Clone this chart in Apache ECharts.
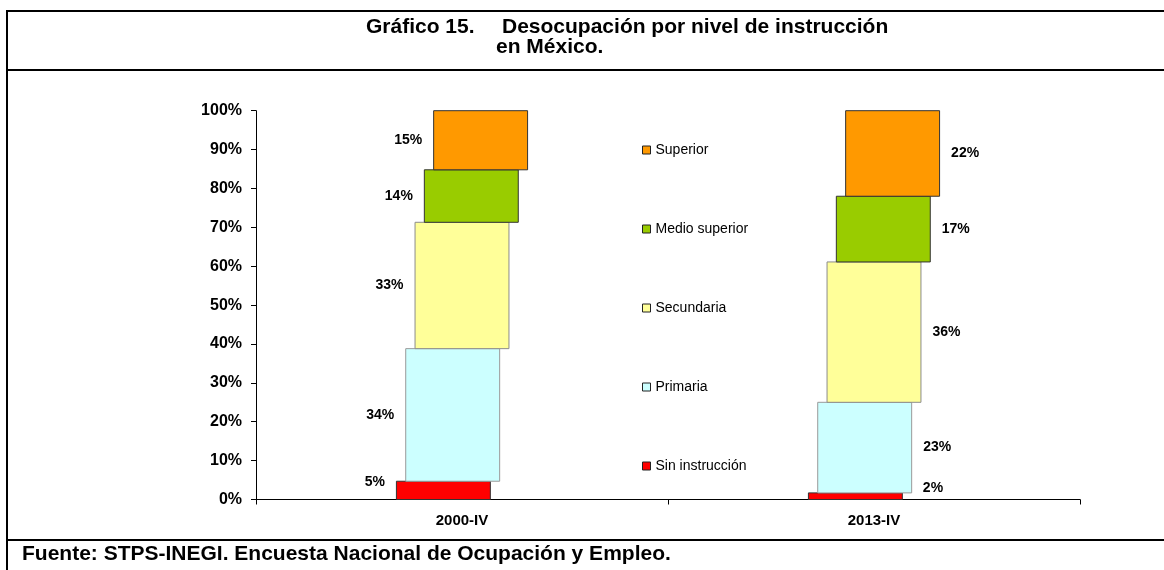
<!DOCTYPE html>
<html><head><meta charset="utf-8">
<script src="https://cdn.jsdelivr.net/npm/echarts@6/dist/echarts.min.js"></script>
<style>html,body{margin:0;padding:0;background:#fff}#c{width:1164px;height:570px}</style>
</head><body><div id="c"></div>
<script>
// ---- data ----
const categories = ['2000-IV', '2013-IV'];
const seriesNames = ['Sin instrucción', 'Primaria', 'Secundaria', 'Medio superior', 'Superior'];
const sinInstruccion = [4.7, 1.7];
const primaria = [34.1, 23.3];
const secundaria = [32.5, 36.1];
const medioSuperior = [13.5, 16.9];
const superior = [15.2, 22.0];
const yMax = 100;
const yStep = 10;
const titleLine1a = 'Gráfico 15.';
const titleLine1b = 'Desocupación por nivel de instrucción';
const titleLine2 = 'en México.';
const sourceText = 'Fuente: STPS-INEGI. Encuesta Nacional de Ocupación y Empleo.';

// ---- styles ----
const fills = ['#FF0000', '#CCFFFF', '#FFFF99', '#99CC00', '#FF9900'];
const borders = ['#333333', '#999999', '#8c8c8c', '#333333', '#333333'];
const FONT = 'Arial, "Liberation Sans", sans-serif';

const values = [sinInstruccion, primaria, secundaria, medioSuperior, superior];
const bases = categories.map(() => 0);

const chart = echarts.init(document.getElementById('c'));

function makeRender(sIdx) {
  return function (params, api) {
    const c = api.value(0), lo = api.value(1), hi = api.value(2), v = api.value(3);
    const pLo = api.coord([c, lo]), pHi = api.coord([c, hi]);
    const band = api.size([1, 0])[0];
    const w = band * 0.228;
    const step = band * 0.0226;
    const x = pLo[0] - w / 2 + (sIdx - 2) * step;
    const h = pLo[1] - pHi[1];
    const small = v < 5;
    const right = c === 1;
    return {
      type: 'rect',
      shape: { x: x, y: pHi[1], width: w, height: h },
      style: { fill: fills[sIdx], stroke: borders[sIdx], lineWidth: 1 },
      textContent: {
        style: { text: Math.round(v) + '%', font: 'bold 14px ' + FONT, fill: '#000' }
      },
      textConfig: {
        position: right ? 'right' : 'left',
        distance: 11,
        offset: [small && right ? 9 : 0, small ? -8 : 0]
      }
    };
  };
}

const series = seriesNames.map((name, sIdx) => {
  const data = categories.map((cat, ci) => {
    const v = values[sIdx][ci];
    const lo = bases[ci];
    bases[ci] += v;
    return [ci, lo, lo + v, v];
  });
  return {
    name: name,
    type: 'custom',
    renderItem: makeRender(sIdx),
    itemStyle: { color: fills[sIdx] },
    encode: { x: 0, y: [1, 2] },
    data: data,
    z: 2
  };
});

const option = {
  animation: false,
  backgroundColor: '#fff',
  grid: { left: 256, right: 84, top: 110.7, bottom: 70.5, containLabel: false },
  xAxis: {
    type: 'category',
    data: categories,
    axisLine: { lineStyle: { color: '#000', width: 1 } },
    axisTick: { show: true, length: 5, lineStyle: { color: '#000' } },
    axisLabel: { color: '#000', fontFamily: FONT, fontWeight: 'bold', fontSize: 15, margin: 14 },
    splitLine: { show: false }
  },
  yAxis: {
    type: 'value',
    min: 0, max: yMax, interval: yStep,
    axisLine: { show: true, lineStyle: { color: '#000', width: 1 } },
    axisTick: { show: true, length: 5, lineStyle: { color: '#000' } },
    axisLabel: { formatter: '{value}%', color: '#000', fontFamily: FONT, fontWeight: 'bold', fontSize: 16, margin: 14 },
    splitLine: { show: false }
  },
  legend: {
    orient: 'vertical',
    left: 642, top: 143,
    padding: 0,
    itemWidth: 8, itemHeight: 8, itemGap: 65,
    icon: 'rect',
    selectedMode: false,
    data: seriesNames.slice().reverse(),
    itemStyle: { borderColor: '#222', borderWidth: 1 },
    textStyle: { fontSize: 14, fontFamily: FONT, color: '#000', lineHeight: 14 }
  },
  graphic: [
    { type: 'line', shape: { x1: 7, y1: 10, x2: 7, y2: 570 }, style: { stroke: '#000', lineWidth: 2 } },
    { type: 'line', shape: { x1: 6, y1: 11, x2: 1164, y2: 11 }, style: { stroke: '#000', lineWidth: 2 } },
    { type: 'line', shape: { x1: 6, y1: 70, x2: 1164, y2: 70 }, style: { stroke: '#000', lineWidth: 2 } },
    { type: 'line', shape: { x1: 6, y1: 540, x2: 1164, y2: 540 }, style: { stroke: '#000', lineWidth: 2 } },
    { type: 'text', left: 366, top: 17, style: { text: titleLine1a, font: 'bold 21px ' + FONT, fill: '#000' } },
    { type: 'text', left: 502, top: 17, style: { text: titleLine1b, font: 'bold 21px ' + FONT, fill: '#000' } },
    { type: 'text', left: 496, top: 37, style: { text: titleLine2, font: 'bold 21px ' + FONT, fill: '#000' } },
    { type: 'text', left: 22, top: 544, style: { text: sourceText, font: 'bold 21px ' + FONT, fill: '#000' } }
  ],
  series: series
};
chart.setOption(option);
</script>
</body></html>
